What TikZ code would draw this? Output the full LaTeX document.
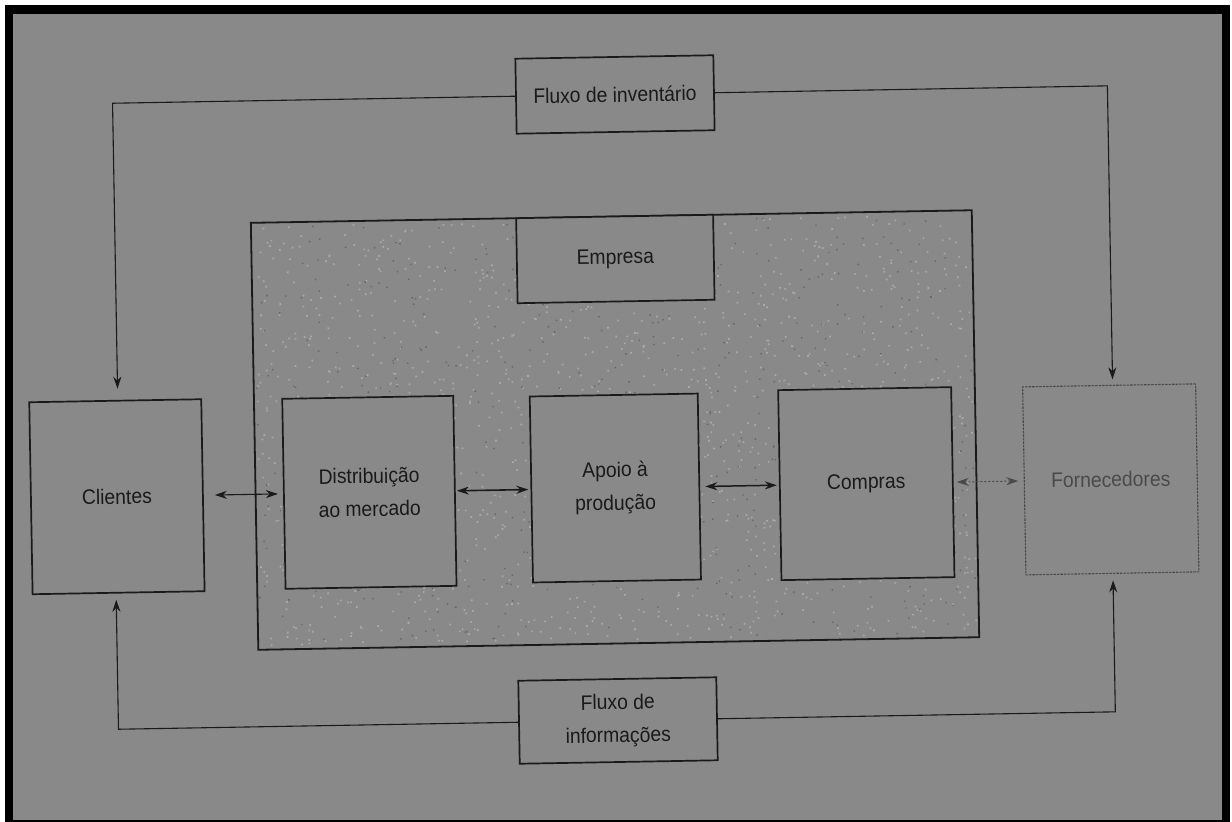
\documentclass[tikz,border=0pt]{standalone}
\usepackage{fontspec}
\setmainfont{Liberation Sans}[FakeStretch=0.92]
\usetikzlibrary{arrows.meta}
\definecolor{bg}{HTML}{898989}
\definecolor{ink}{HTML}{1A1A1A}
\definecolor{speckL}{HTML}{A9A9A9}
\definecolor{speckD}{HTML}{666666}
\definecolor{faded}{HTML}{4A4A4A}
\begin{document}
\begin{tikzpicture}[x=1pt,y=-1pt,
  blk/.style={draw=ink,line width=1.7pt,fill=bg,outer sep=0pt,inner sep=0pt,
    align=center,font=\fontsize{21}{33}\selectfont,text=ink},
  conn/.style={draw=ink,line width=1.1pt},
  tip/.style={-{Stealth[length=12pt,width=8pt]}},
  bitip/.style={{Stealth[length=12pt,width=8pt]}-{Stealth[length=12pt,width=8pt]}}]
\useasboundingbox (0,0) rectangle (1232,822);
% frame
\fill[white] (0,0) rectangle (1232,822);
\fill[black] (5,5) rectangle (1230,822);
\fill[bg] (13,14) rectangle (1222,820);
\begin{scope}[rotate around={1:(616,411)},transform shape]
  % company box
  \node[draw=ink,line width=1.8pt,fill=bg,minimum width=721pt,minimum height=427pt,
        outer sep=0pt,inner sep=0pt] (emp) at (614.7,430) {};
  \pgfmathsetseed{42}
  \foreach \i in {1,...,1400}{%
    \pgfmathsetmacro{\px}{256+rnd*716}%
    \pgfmathsetmacro{\py}{219+rnd*420}%
    \fill[speckL] (\px,\py) rectangle ++(1.7,1.7);}
  \foreach \i in {1,...,500}{%
    \pgfmathsetmacro{\px}{256+rnd*716}%
    \pgfmathsetmacro{\py}{219+rnd*420}%
    \fill[speckD] (\px,\py) rectangle ++(1.4,1.4);}
  \node[blk,anchor=north,minimum width=197pt,minimum height=85pt] (emplabel) at (618,216.5) {Empresa};
  % boxes
  \node[blk,minimum width=172pt,minimum height=192pt] (cli) at (115.5,488) {Clientes};
  \node[blk,minimum width=171pt,minimum height=190pt] (dist) at (368,488) {Distribuição\\ao mercado};
  \node[blk,minimum width=168pt,minimum height=186pt] (apoio) at (614,488) {Apoio à\\produção};
  \node[blk,minimum width=173pt,minimum height=190pt] (comp) at (865,488) {Compras};
  \node[blk,draw=faded,line width=1.1pt,dash pattern=on 2.5pt off 1pt,text=faded,
        minimum width=173pt,minimum height=188pt] (forn) at (1109.5,488) {Fornecedores};
  \node[blk,minimum width=198pt,minimum height=75pt] (inv) at (620.5,94.5) {Fluxo de inventário};
  \node[blk,minimum width=198pt,minimum height=83pt] (info) at (612.6,720.5) {Fluxo de\\informações};
  % corner coordinates
  \coordinate (tl) at (118,94.5);
  \coordinate (tr) at (1113,94.5);
  \coordinate (bl) at (113,720.5);
  \coordinate (br) at (1110,720.5);
  % flows
  \draw[conn,tip,shorten >=12pt] (inv.west) -- (tl) -- (tl |- cli.north);
  \draw[conn,tip,shorten >=6pt] (inv.east) -- (tr) -- (tr |- forn.north);
  \draw[conn,tip,shorten >=7pt] (info.west) -- (bl) -- (bl |- cli.south);
  \draw[conn,tip,shorten >=7pt] (info.east) -- (br) -- (br |- forn.south);
  % horizontal links
  \draw[conn,bitip,shorten <=12pt,shorten >=6pt] (cli.east) -- (dist.west);
  \draw[conn,bitip,line width=1.6pt,shorten <=2pt,shorten >=3pt] (dist.east) -- (apoio.west);
  \draw[conn,bitip,line width=1.5pt,shorten <=6pt,shorten >=3pt] (apoio.east) -- (comp.west);
  \draw[conn,draw=faded,bitip,line width=1pt,dash pattern=on 2pt off 2pt,shorten <=4pt,shorten >=6pt] (comp.east) -- (forn.west);
\end{scope}
\end{tikzpicture}
\end{document}
